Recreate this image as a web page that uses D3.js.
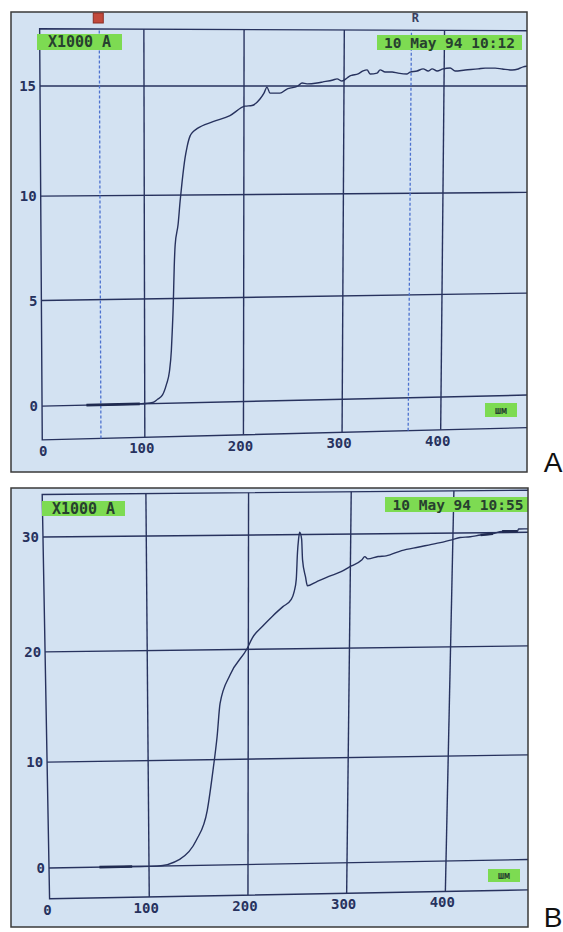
<!DOCTYPE html>
<html>
<head>
<meta charset="utf-8">
<script src="https://cdn.jsdelivr.net/npm/d3@7"></script>
<style>
  body { margin: 0; background: #fff; }
  svg { display: block; }
</style>
</head>
<body>
<svg id="chart" width="563" height="932"></svg>
<script>
// ---- data ----
const xTicks = [0, 100, 200, 300, 400];
const aTicksY = [0, 5, 10, 15];
const bTicksY = [0, 10, 20, 30];

// panel A trace (x, value in x1000 A)
const aCurveX = [41, 95, 108, 113, 118, 122, 125, 127, 128, 129, 130, 131, 134, 136, 138, 141, 143, 146, 148, 153,
  169, 186, 201, 208, 216, 220, 223, 226, 229, 236, 243, 246, 254, 258, 263, 273, 279, 289, 293, 298, 303, 306,
  308, 314, 319, 323, 326, 333, 336, 341, 348, 354, 363, 366, 373, 379, 384, 388, 393, 399, 406, 411, 421, 434,
  441, 451, 458, 468, 474, 479, 483, 490];
const aCurveY = [0, 0, 0.05, 0.2, 0.4, 0.9, 1.5, 2.5, 3.5, 4.7, 6.5, 7.6, 8.6, 9.7, 10.6, 11.7, 12.2, 12.7, 12.85, 13.04,
  13.36, 13.64, 14.07, 14.1, 14.4, 14.67, 14.95, 14.67, 14.67, 14.67, 14.86, 14.9, 15.0, 15.14, 15.1, 15.14, 15.19, 15.28, 15.33, 15.23, 15.37, 15.47,
  15.5, 15.56, 15.7, 15.75, 15.56, 15.6, 15.75, 15.65, 15.65, 15.6, 15.56, 15.65, 15.7, 15.8, 15.7, 15.8, 15.7, 15.8, 15.84, 15.7, 15.75, 15.8,
  15.84, 15.84, 15.8, 15.75, 15.8, 15.9, 15.93, 15.95];
const aThick = [[41, 95]];
const aCursors = [55.5, 367];

// panel B trace
const bCurveX = [50, 83, 108, 131, 148, 159, 165, 169, 172, 182, 199, 204, 214, 224, 234, 242, 245, 247, 248, 249, 250,
  252, 253, 256, 258, 266, 279, 291, 301, 311, 314, 317, 327, 335, 350, 367, 384, 399, 407, 417, 427, 439, 448, 463, 464, 475, 490];
const bCurveY = [0, 0, 0, 0.6, 2.4, 5.2, 9.1, 12.1, 15.1, 17.7, 20.1, 21.0, 22.0, 22.9, 23.7, 24.3, 25.0, 26.1, 28.4, 29.6, 30.2,
  29.6, 27.8, 26.3, 25.5, 25.8, 26.3, 26.7, 27.2, 27.7, 28.0, 27.8, 28.0, 28.05, 28.5, 28.8, 29.1, 29.4, 29.6, 29.65, 29.8, 29.9, 30.1, 30.1, 30.3, 30.3, 30.35];
const bThick = [[50, 83], [427, 439], [448, 463]];

const scaleLabel = "X1000 A";
const aDate = "10 May 94 10:12";
const bDate = "10 May 94 10:55";
const unitLabel = "шм";

// ---- drawing ----
const svg = d3.select("#chart");
const bg = "#d3e2f2", ink = "#27325e", boxGreen = "#7ddb52", boxInk = "#27402f";
const mono = "'DejaVu Sans Mono', monospace";

function lerp(a, b, t) { return [a[0] + (b[0] - a[0]) * t, a[1] + (b[1] - a[1]) * t]; }

function drawPanel(p) {
  const g = svg.append("g");
  // the photo is taken at an angle: bilinear map from (u,v) to screen
  const xs = d3.scaleLinear().domain([0, 400]).range([0, 1]);
  const ys = d3.scaleLinear().domain(p.ticksY).range(p.vStops);
  const proj = (x, y) => {
    const u = xs(x), v = ys(y);
    return lerp(lerp(p.b0, p.b1, u), lerp(p.t0, p.t1, u), v);
  };
  const line = d3.line();
  const trace = d3.line().curve(d3.curveMonotoneX);

  g.append("rect")
    .attr("x", p.frame[0]).attr("y", p.frame[1])
    .attr("width", p.frame[2]).attr("height", p.frame[3])
    .attr("fill", bg);

  const clipId = "clip" + p.id;
  svg.append("clipPath").attr("id", clipId)
    .append("rect")
    .attr("x", p.frame[0]).attr("y", p.frame[1])
    .attr("width", p.frame[2]).attr("height", p.frame[3]);
  const plot = g.append("g").attr("clip-path", `url(#${clipId})`);

  // grid
  plot.selectAll(".gx").data(xTicks.filter(d => d > 0))
    .join("path")
    .attr("d", d => line([proj(d, p.yMin), proj(d, p.yMax)]))
    .attr("stroke", ink).attr("stroke-width", 1.4).attr("fill", "none");
  plot.selectAll(".gy").data(p.ticksY)
    .join("path")
    .attr("d", d => line([proj(p.xMin, d), proj(p.xMax, d)]))
    .attr("stroke", ink).attr("stroke-width", 1.4).attr("fill", "none");
  // plot border: left axis, bottom axis, top line
  plot.append("path")
    .attr("d", line([proj(p.xMax, p.yMax), proj(p.xMin, p.yMax), proj(p.xMin, p.yMin), proj(p.xMax, p.yMin)]))
    .attr("stroke", ink).attr("stroke-width", 1.4).attr("fill", "none");

  // cursors
  plot.selectAll(".cur").data(p.cursors || [])
    .join("path")
    .attr("d", d => line([proj(d, p.yMin), proj(d, p.yMax)]))
    .attr("stroke", "#4d72cf").attr("stroke-width", 1.3)
    .attr("stroke-dasharray", "3,2").attr("fill", "none");

  // trace
  const pts = p.cx.map((x, i) => proj(x, p.cy[i]));
  plot.append("path")
    .attr("d", trace(pts))
    .attr("stroke", ink).attr("stroke-width", 1.4).attr("fill", "none")
    .attr("stroke-linejoin", "round");
  plot.selectAll(".thick").data(p.thick)
    .join("path")
    .attr("d", d => {
      const seg = p.cx.map((x, i) => [x, p.cy[i]]).filter(q => q[0] >= d[0] && q[0] <= d[1]);
      return line(seg.map(q => proj(q[0], q[1])));
    })
    .attr("stroke", "#1f2a50").attr("stroke-width", 2.6).attr("fill", "none");

  // tick labels
  g.selectAll(".ty").data(p.ticksY)
    .join("text")
    .attr("x", d => proj(p.xMin, d)[0] - 4)
    .attr("y", d => proj(p.xMin, d)[1])
    .attr("dy", "0.36em")
    .attr("text-anchor", "end")
    .attr("font-family", mono).attr("font-weight", "bold").attr("font-size", 14)
    .attr("fill", ink)
    .text(d => d);
  g.selectAll(".tx").data(xTicks)
    .join("text")
    .attr("x", d => proj(d, p.yMin)[0] - 3)
    .attr("y", d => proj(d, p.yMin)[1] + 11)
    .attr("dy", "0.36em")
    .attr("text-anchor", "middle")
    .attr("font-family", mono).attr("font-weight", "bold").attr("font-size", 14)
    .attr("fill", ink)
    .text(d => d);

  // green labels
  const boxes = [
    { r: p.scaleBox, t: scaleLabel, fs: 15 },
    { r: p.dateBox, t: p.date, fs: 14.5 },
    { r: p.unitBox, t: unitLabel, fs: 10 }
  ];
  const bx = plot.selectAll(".box").data(boxes).join("g");
  bx.append("rect")
    .attr("x", d => d.r[0]).attr("y", d => d.r[1])
    .attr("width", d => d.r[2]).attr("height", d => d.r[3])
    .attr("fill", boxGreen);
  bx.append("text")
    .attr("x", d => d.r[0] + d.r[2] / 2)
    .attr("y", d => d.r[1] + d.r[3] / 2)
    .attr("dy", "0.36em")
    .attr("text-anchor", "middle")
    .attr("font-family", mono).attr("font-weight", "bold")
    .attr("font-size", d => d.fs)
    .attr("fill", boxInk)
    .text(d => d.t);

  // frame
  g.append("rect")
    .attr("x", p.frame[0]).attr("y", p.frame[1])
    .attr("width", p.frame[2]).attr("height", p.frame[3])
    .attr("fill", "none").attr("stroke", "#3a3a3a").attr("stroke-width", 1.5);

  // panel letter
  svg.append("text")
    .attr("x", 553).attr("y", p.frame[1] + p.frame[3])
    .attr("text-anchor", "middle")
    .attr("font-family", "'Liberation Sans', Arial, sans-serif").attr("font-size", 28)
    .attr("fill", "#111")
    .text(p.id);
  return { g, proj };
}

const A = drawPanel({
  id: "A",
  frame: [11, 12, 516, 460],
  b0: [46, 406], b1: [441, 397], t0: [44, 86], t1: [444, 86],
  ticksY: aTicksY, vStops: [0, 0.33, 0.656, 1],
  xMin: -4, xMax: 500, yMin: -1.6, yMax: 17.6,
  cx: aCurveX, cy: aCurveY, thick: aThick, cursors: aCursors,
  date: aDate,
  scaleBox: [37, 34, 85, 16], dateBox: [377, 35, 145, 15], unitBox: [485, 403, 32, 14]
});

// cursor markers above panel A
A.g.append("rect")
  .attr("x", A.proj(aCursors[0], 17.6)[0] - 6).attr("y", 13)
  .attr("width", 10).attr("height", 10)
  .attr("fill", "#c2493b").attr("stroke", "#8a2e25").attr("stroke-width", 1);
A.g.append("text")
  .attr("x", A.proj(aCursors[1], 17.6)[0] + 4).attr("y", 22)
  .attr("text-anchor", "middle")
  .attr("font-family", mono).attr("font-weight", "bold").attr("font-size", 12)
  .attr("fill", "#3a4060")
  .text("R");

drawPanel({
  id: "B",
  frame: [11, 488, 517, 439],
  b0: [50, 868], b1: [446, 861], t0: [44, 537], t1: [453, 533],
  ticksY: bTicksY, vStops: [0, 0.32, 0.653, 1],
  xMin: -1, xMax: 500, yMin: -2.9, yMax: 33.7,
  cx: bCurveX, cy: bCurveY, thick: bThick,
  date: bDate,
  scaleBox: [42, 501, 83, 15], dateBox: [385, 497, 146, 15], unitBox: [488, 869, 32, 13]
});
</script>
</body>
</html>
